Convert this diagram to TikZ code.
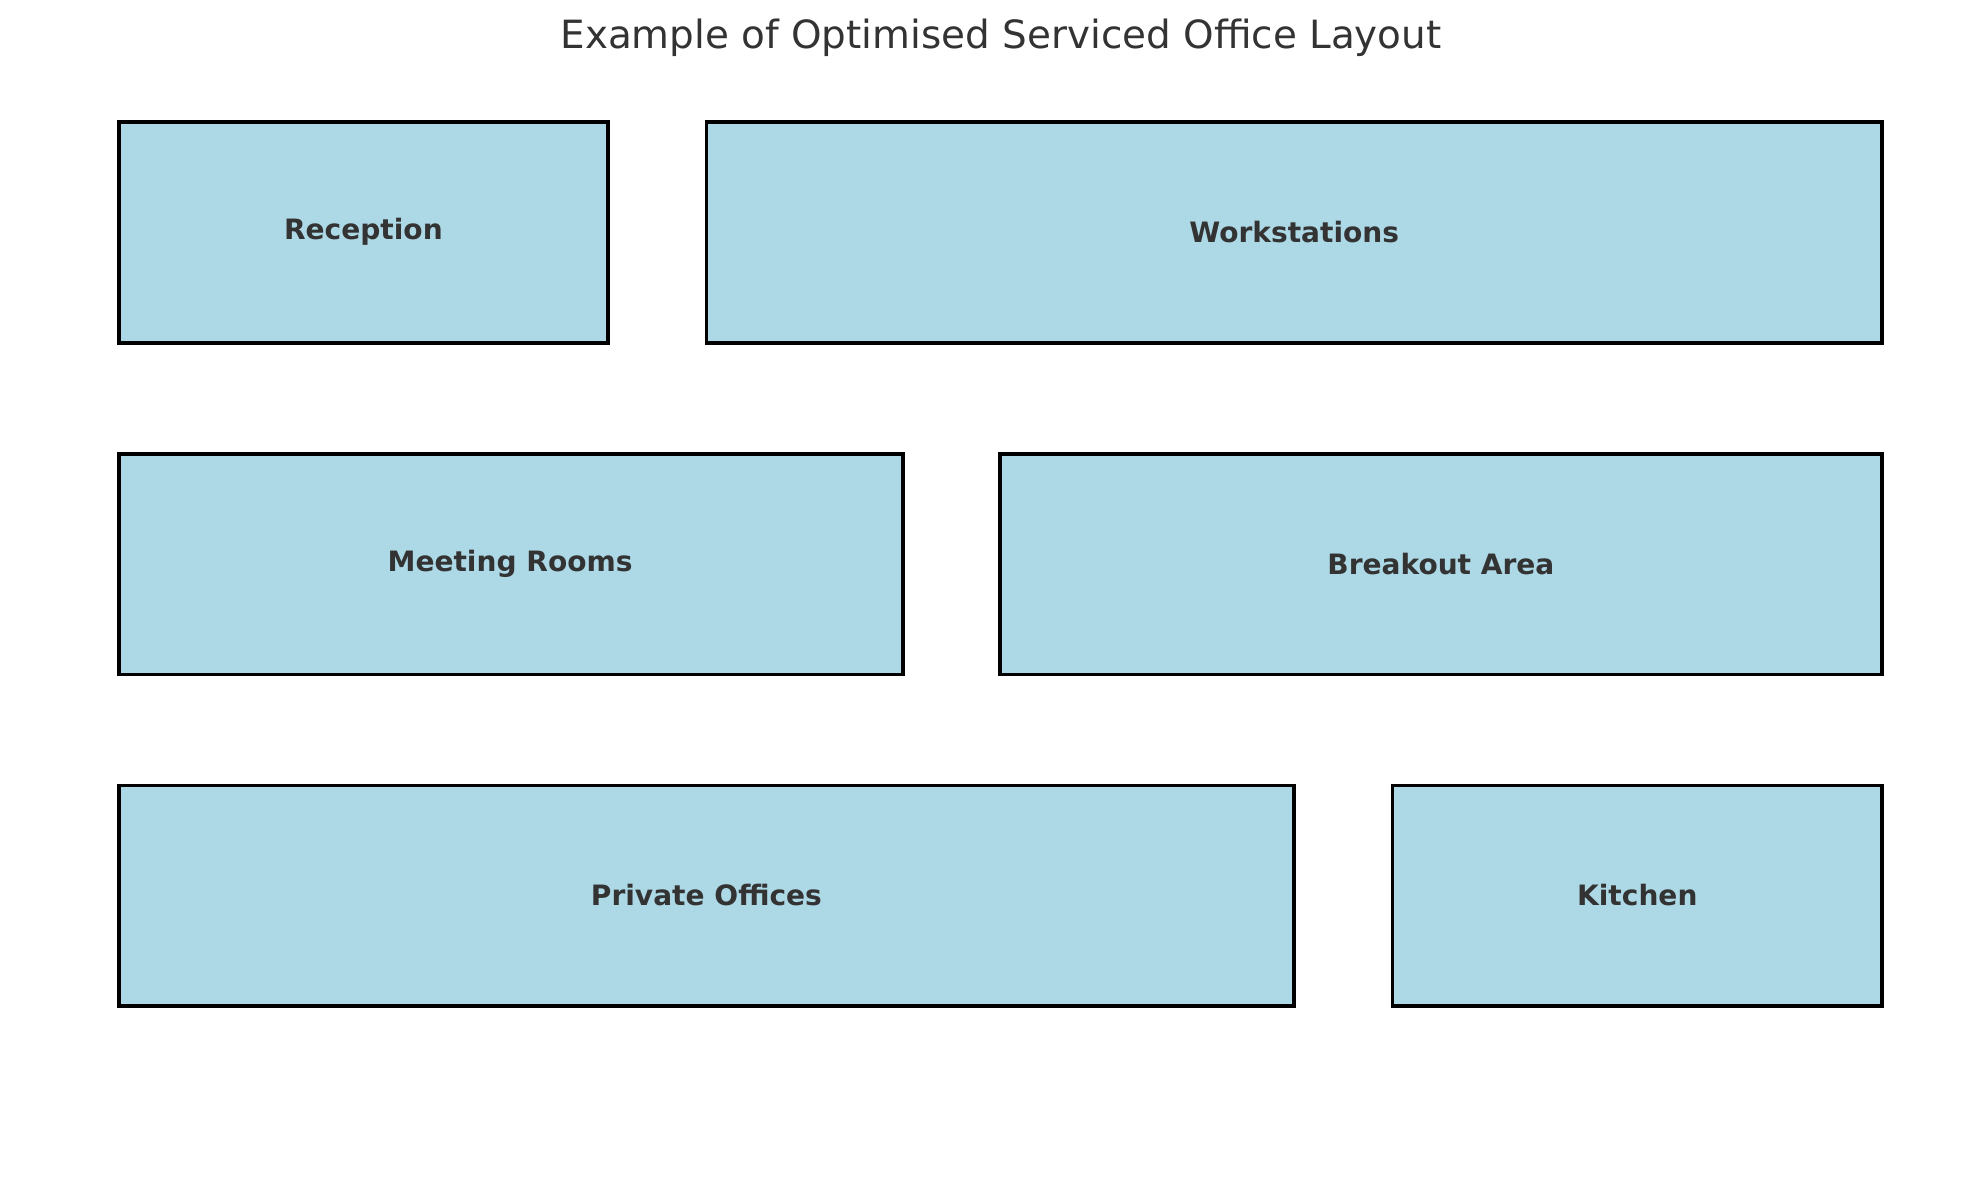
\documentclass[tikz,border=0pt]{standalone}
\usepackage{fontspec}
\setmainfont{DejaVu Sans}
\definecolor{room}{HTML}{ADD8E6}
\definecolor{txt}{HTML}{333333}
\begin{document}
\begin{tikzpicture}[x=1pt,y=-1pt,
  roombox/.style={draw=black,fill=room,line width=3pt},
  lbl/.style={text=txt,font=\fontsize{22}{26}\selectfont\bfseries}]
\useasboundingbox (0,0) rectangle (1552,925);
\node[text=txt,font=\fontsize{30.5}{36}\selectfont] (title) at (785,30) {Example of Optimised Serviced Office Layout};
\draw[roombox] (93,96) rectangle (477,269);
\node[lbl] (r) at (285,182) {Reception};
\draw[roombox] (554,96) rectangle (1476,269);
\node[lbl] (w) at (1015,182) {Workstations};
\draw[roombox] (93,356) rectangle (708,529);
\node[lbl] (m) at (400,442) {Meeting Rooms};
\draw[roombox] (784,356) rectangle (1476,529);
\node[lbl] (b) at (1130,442) {Breakout Area};
\draw[roombox] (93,616) rectangle (1015,789);
\node[lbl] (p) at (554,702) {Private Offices};
\draw[roombox] (1092,616) rectangle (1476,789);
\node[lbl] (k) at (1284,702) {Kitchen};
\end{tikzpicture}
\end{document}
